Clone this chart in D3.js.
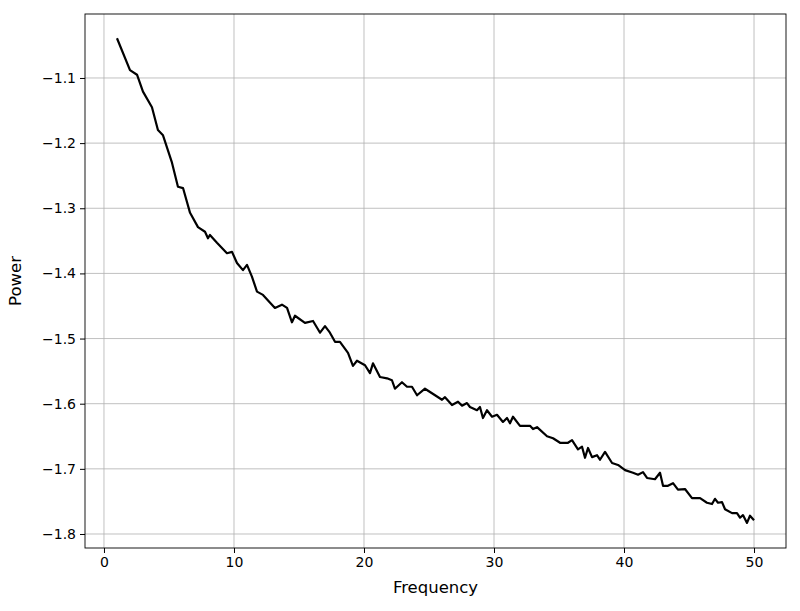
<!DOCTYPE html>
<html><head><meta charset="utf-8">
<script src="https://cdn.jsdelivr.net/npm/d3@7"></script>
<style>body{margin:0;background:#fff;font-family:"DejaVu Sans",sans-serif}</style>
</head><body><svg id="chart" width="800" height="611"></svg>
<script>
// values
var freq = [1.0,2.0,2.54,3.0,3.69,4.15,4.54,5.23,5.69,6.08,6.62,7.23,7.77,8.0,8.15,8.69,9.46,9.85,10.23,10.69,11.0,11.38,11.77,12.23,13.15,13.69,14.08,14.46,14.69,15.46,16.08,16.62,17.0,17.38,17.77,18.15,18.77,19.15,19.46,20.08,20.46,20.69,21.23,21.77,22.15,22.38,22.92,23.31,23.69,24.08,24.69,25.23,26.0,26.23,26.77,27.23,27.54,27.92,28.15,28.69,28.92,29.15,29.46,29.85,30.23,30.69,31.0,31.23,31.46,32.0,32.77,33.0,33.31,34.08,34.54,35.08,35.69,36.0,36.46,36.77,37.0,37.23,37.54,37.92,38.15,38.54,39.08,39.54,40.08,40.69,41.08,41.46,41.77,42.38,42.77,43.0,43.38,43.77,44.15,44.69,45.23,45.85,46.38,46.77,47.0,47.23,47.54,47.77,48.31,48.69,48.92,49.15,49.46,49.69,50.0];
var power = [-1.039,-1.088,-1.095,-1.121,-1.145,-1.180,-1.188,-1.230,-1.267,-1.269,-1.307,-1.329,-1.336,-1.346,-1.341,-1.353,-1.369,-1.367,-1.384,-1.395,-1.387,-1.405,-1.428,-1.433,-1.453,-1.448,-1.453,-1.475,-1.465,-1.476,-1.473,-1.491,-1.481,-1.491,-1.505,-1.505,-1.522,-1.542,-1.534,-1.541,-1.553,-1.538,-1.559,-1.561,-1.564,-1.577,-1.567,-1.574,-1.574,-1.587,-1.577,-1.584,-1.594,-1.590,-1.602,-1.597,-1.603,-1.599,-1.605,-1.610,-1.605,-1.622,-1.610,-1.620,-1.617,-1.628,-1.622,-1.630,-1.620,-1.634,-1.634,-1.639,-1.636,-1.650,-1.653,-1.660,-1.660,-1.656,-1.670,-1.666,-1.683,-1.668,-1.682,-1.679,-1.686,-1.674,-1.691,-1.694,-1.702,-1.706,-1.709,-1.705,-1.714,-1.716,-1.706,-1.726,-1.726,-1.722,-1.732,-1.731,-1.745,-1.745,-1.752,-1.754,-1.746,-1.752,-1.751,-1.762,-1.768,-1.768,-1.775,-1.771,-1.783,-1.772,-1.779];
var xTicks = [0,10,20,30,40,50];
var yTicks = [-1.8,-1.7,-1.6,-1.5,-1.4,-1.3,-1.2,-1.1];

var margin = {top: 14, right: 14, bottom: 63, left: 85},
    width = 800 - margin.left - margin.right,
    height = 611 - margin.top - margin.bottom;

var xScale = d3.scaleLinear().domain([-1.46, 52.46]).range([0, width]);
var yScale = d3.scaleLinear().domain([-1.8215, -1.0018]).range([height, 0]);
var fmt = function (d) { return d.toFixed(1).replace("-", "\u2212"); };

var g = d3.select("#chart").append("g")
    .attr("transform", "translate(" + margin.left + "," + margin.top + ")");

// grid
g.selectAll(".vgrid").data(xTicks).enter().append("line")
    .attr("x1", function (d) { return xScale(d); }).attr("x2", function (d) { return xScale(d); })
    .attr("y1", 0).attr("y2", height).style("stroke", "#b0b0b0").style("stroke-width", 0.8);
g.selectAll(".hgrid").data(yTicks).enter().append("line")
    .attr("y1", function (d) { return yScale(d); }).attr("y2", function (d) { return yScale(d); })
    .attr("x1", 0).attr("x2", width).style("stroke", "#b0b0b0").style("stroke-width", 0.8);

var xAxis = g.append("g").attr("transform", "translate(0," + height + ")")
    .call(d3.axisBottom(xScale).tickValues(xTicks).tickSize(5).tickPadding(4).tickSizeOuter(0));
var yAxis = g.append("g")
    .call(d3.axisLeft(yScale).tickValues(yTicks).tickFormat(fmt).tickSize(5).tickPadding(4).tickSizeOuter(0));
[xAxis, yAxis].forEach(function (a) {
    a.select(".domain").remove();
    a.selectAll("text").style("font-size", "14px").style("fill", "#000").attr("font-family", "DejaVu Sans");
    a.selectAll("line").style("stroke", "#000");
});

g.append("rect").attr("width", width).attr("height", height)
    .style("fill", "none").style("stroke", "#000").style("stroke-width", 0.9);

var line = d3.line()
    .x(function (d, i) { return xScale(freq[i]); })
    .y(function (d) { return yScale(d); });
g.append("path").datum(power).attr("d", line)
    .style("fill", "none").style("stroke", "#000").style("stroke-width", 2.2).style("stroke-linejoin", "round");

g.append("text").attr("x", width / 2).attr("y", height + 45).attr("text-anchor", "middle")
    .style("font-size", "16.5px").text("Frequency");
g.append("text").attr("transform", "rotate(-90)").attr("x", -height / 2).attr("y", -64)
    .attr("text-anchor", "middle").style("font-size", "16.5px").text("Power");
</script></body></html>
